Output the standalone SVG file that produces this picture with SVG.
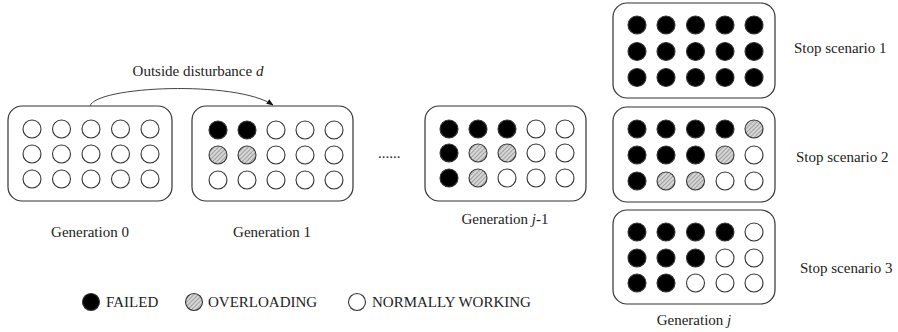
<svg xmlns="http://www.w3.org/2000/svg" width="898" height="332" viewBox="0 0 898 332">
  <style>
    .box { fill: #fff; stroke: #333; stroke-width: 1.2; }
    .u { stroke: #333; stroke-width: 1.1; }
    .f { fill: #000; }
    .o { fill: url(#hatch); }
    .w { fill: #fff; }
    .t { font-family: "Liberation Serif", "Times New Roman", serif; font-size: 15px; fill: #222; }
    .edge { fill: none; stroke: #444; stroke-width: 1; }
  </style>
  <defs>
    <pattern id="hatch" patternUnits="userSpaceOnUse" width="3" height="3" patternTransform="rotate(45)">
      <rect width="3" height="3" fill="#d6d6d6"/>
      <line x1="0" y1="0" x2="0" y2="3" stroke="#7a7a7a" stroke-width="1.2"/>
    </pattern>
    <marker id="arrow" viewBox="0 0 10 10" refX="9" refY="5" markerWidth="7" markerHeight="7" orient="auto">
      <path d="M0,1 L10,5 L0,9 z" fill="#111"/>
    </marker>
  </defs>

  <!-- Generation 0 -->
  <g id="gen0">
    <rect class="box" x="8" y="106" width="164" height="95" rx="14"/>
    <g class="u">
      <circle class="w" cx="32" cy="129" r="9"/><circle class="w" cx="61.5" cy="129" r="9"/><circle class="w" cx="91" cy="129" r="9"/><circle class="w" cx="120.5" cy="129" r="9"/><circle class="w" cx="150" cy="129" r="9"/>
      <circle class="w" cx="32" cy="154" r="9"/><circle class="w" cx="61.5" cy="154" r="9"/><circle class="w" cx="91" cy="154" r="9"/><circle class="w" cx="120.5" cy="154" r="9"/><circle class="w" cx="150" cy="154" r="9"/>
      <circle class="w" cx="32" cy="179" r="9"/><circle class="w" cx="61.5" cy="179" r="9"/><circle class="w" cx="91" cy="179" r="9"/><circle class="w" cx="120.5" cy="179" r="9"/><circle class="w" cx="150" cy="179" r="9"/>
    </g>
    <text class="t" x="90" y="237" text-anchor="middle">Generation 0</text>
  </g>

  <!-- Generation 1 -->
  <g id="gen1">
    <rect class="box" x="192" y="106" width="161" height="95" rx="14"/>
    <g class="u">
      <circle class="f" cx="218" cy="130" r="9"/><circle class="f" cx="247" cy="130" r="9"/><circle class="w" cx="276" cy="130" r="9"/><circle class="w" cx="305" cy="130" r="9"/><circle class="w" cx="334" cy="130" r="9"/>
      <circle class="o" cx="218" cy="155" r="9"/><circle class="o" cx="247" cy="155" r="9"/><circle class="w" cx="276" cy="155" r="9"/><circle class="w" cx="305" cy="155" r="9"/><circle class="w" cx="334" cy="155" r="9"/>
      <circle class="w" cx="218" cy="180" r="9"/><circle class="w" cx="247" cy="180" r="9"/><circle class="w" cx="276" cy="180" r="9"/><circle class="w" cx="305" cy="180" r="9"/><circle class="w" cx="334" cy="180" r="9"/>
    </g>
    <text class="t" x="272" y="237" text-anchor="middle">Generation 1</text>
  </g>

  <text class="t" x="378" y="158">......</text>

  <!-- Generation j-1 -->
  <g id="genjm1">
    <rect class="box" x="425" y="106" width="161" height="95" rx="14"/>
    <g class="u">
      <circle class="f" cx="449" cy="129" r="9"/><circle class="f" cx="478" cy="129" r="9"/><circle class="f" cx="507" cy="129" r="9"/><circle class="w" cx="536" cy="129" r="9"/><circle class="w" cx="565" cy="129" r="9"/>
      <circle class="f" cx="449" cy="153" r="9"/><circle class="o" cx="478" cy="153" r="9"/><circle class="o" cx="507" cy="153" r="9"/><circle class="w" cx="536" cy="153" r="9"/><circle class="w" cx="565" cy="153" r="9"/>
      <circle class="f" cx="449" cy="178" r="9"/><circle class="o" cx="478" cy="178" r="9"/><circle class="w" cx="507" cy="178" r="9"/><circle class="w" cx="536" cy="178" r="9"/><circle class="w" cx="565" cy="178" r="9"/>
    </g>
    <text class="t" x="505" y="224" text-anchor="middle">Generation <tspan font-style="italic">j</tspan>-1</text>
  </g>

  <!-- Stop scenario 1 -->
  <g id="stop1">
    <rect class="box" x="613" y="3" width="162" height="95" rx="14"/>
    <g class="u f">
      <circle cx="637" cy="25" r="9"/><circle cx="666" cy="25" r="9"/><circle cx="695.5" cy="25" r="9"/><circle cx="725" cy="25" r="9"/><circle cx="754" cy="25" r="9"/>
      <circle cx="637" cy="51.5" r="9"/><circle cx="666" cy="51.5" r="9"/><circle cx="695.5" cy="51.5" r="9"/><circle cx="725" cy="51.5" r="9"/><circle cx="754" cy="51.5" r="9"/>
      <circle cx="637" cy="77.5" r="9"/><circle cx="666" cy="77.5" r="9"/><circle cx="695.5" cy="77.5" r="9"/><circle cx="725" cy="77.5" r="9"/><circle cx="754" cy="77.5" r="9"/>
    </g>
    <text class="t" x="794" y="53">Stop scenario 1</text>
  </g>

  <!-- Stop scenario 2 -->
  <g id="stop2">
    <rect class="box" x="613" y="107" width="162" height="95" rx="14"/>
    <g class="u">
      <circle class="f" cx="637" cy="129" r="9"/><circle class="f" cx="666" cy="129" r="9"/><circle class="f" cx="695.5" cy="129" r="9"/><circle class="f" cx="725" cy="129" r="9"/><circle class="o" cx="754" cy="129" r="9"/>
      <circle class="f" cx="637" cy="155" r="9"/><circle class="f" cx="666" cy="155" r="9"/><circle class="f" cx="695.5" cy="155" r="9"/><circle class="o" cx="725" cy="155" r="9"/><circle class="w" cx="754" cy="155" r="9"/>
      <circle class="f" cx="637" cy="181" r="9"/><circle class="o" cx="666" cy="181" r="9"/><circle class="o" cx="695.5" cy="181" r="9"/><circle class="w" cx="725" cy="181" r="9"/><circle class="w" cx="754" cy="181" r="9"/>
    </g>
    <text class="t" x="796" y="162">Stop scenario 2</text>
  </g>

  <!-- Stop scenario 3 / Generation j -->
  <g id="stop3">
    <rect class="box" x="613" y="210" width="162" height="94" rx="14"/>
    <g class="u">
      <circle class="f" cx="637" cy="232" r="9"/><circle class="f" cx="666" cy="232" r="9"/><circle class="f" cx="695.5" cy="232" r="9"/><circle class="f" cx="725" cy="232" r="9"/><circle class="w" cx="754" cy="232" r="9"/>
      <circle class="f" cx="637" cy="258" r="9"/><circle class="f" cx="666" cy="258" r="9"/><circle class="f" cx="695.5" cy="258" r="9"/><circle class="w" cx="725" cy="258" r="9"/><circle class="w" cx="754" cy="258" r="9"/>
      <circle class="f" cx="637" cy="283" r="9"/><circle class="f" cx="666" cy="283" r="9"/><circle class="w" cx="695.5" cy="283" r="9"/><circle class="w" cx="725" cy="283" r="9"/><circle class="w" cx="754" cy="283" r="9"/>
    </g>
    <text class="t" x="800" y="273">Stop scenario 3</text>
    <text class="t" x="694" y="325" text-anchor="middle">Generation <tspan font-style="italic">j</tspan></text>
  </g>

  <!-- Connectors -->
  <g id="connectors">
    <path class="edge" d="M90,106 C96,86 236,80 273,105" marker-end="url(#arrow)"/>
    <text class="t" x="198" y="76" text-anchor="middle">Outside disturbance <tspan font-style="italic">d</tspan></text>
  </g>

  <!-- Legend -->
  <g id="legend">
    <circle class="u f" cx="91" cy="302" r="8.5"/>
    <text class="t" x="106" y="307">FAILED</text>
    <circle class="u o" cx="194" cy="302" r="8.5"/>
    <text class="t" x="208" y="307">OVERLOADING</text>
    <circle class="u w" cx="357" cy="302" r="8.5"/>
    <text class="t" x="372" y="307">NORMALLY WORKING</text>
  </g>
</svg>
